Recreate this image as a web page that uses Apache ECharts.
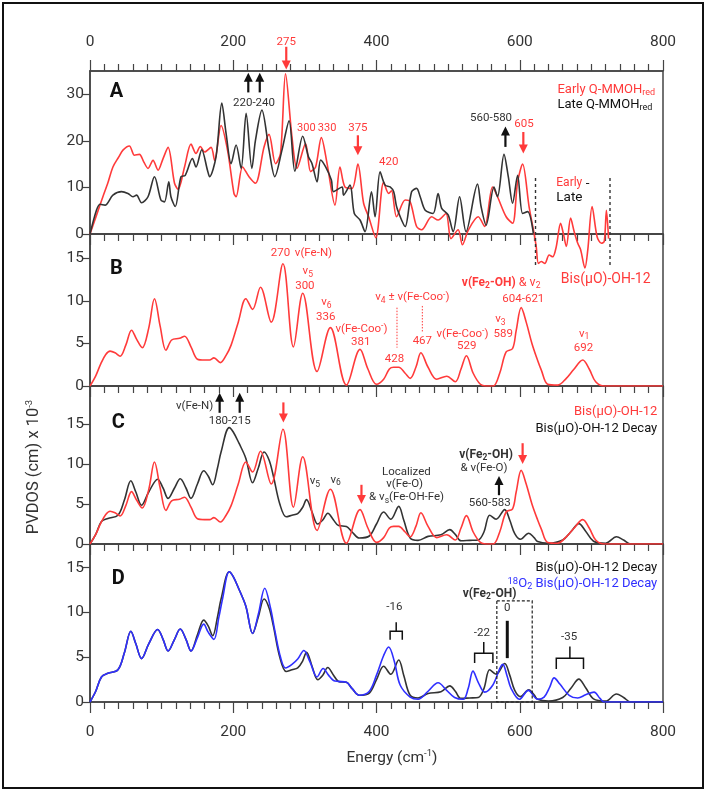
<!DOCTYPE html>
<html><head><meta charset="utf-8">
<script src="https://cdn.jsdelivr.net/npm/echarts@6/dist/echarts.min.js"></script>
<style>html,body{margin:0;padding:0;background:#fff}#c{width:706px;height:795px}</style>
</head><body><div id="c"></div>
<script>
// ---------------- data (x in cm^-1, y in PVDOS units) ----------------
const xTickValues = [0, 200, 400, 600, 800];
const yTicksA = [0, 10, 20, 30];
const yTicksBCD = [0, 5, 10, 15];

// Panel A: Early Q-MMOHred
const earlyA = [[0,0],[9,4],[18,8],[25,11],[32,14.4],[40,16.5],[46,18],[55,18.9],[62,16.9],[69,17.1],[75,15.5],[81,14.1],[88,15.8],[95,13.7],[102,16.2],[109,18.6],[118,10.9],[123,9.6],[132,14.4],[141,19.3],[148,17.3],[154,18.8],[160,17.6],[169,18.6],[174,15.8],[183,23.3],[192,18],[201,8.7],[204,8],[213,14.4],[222,12.3],[231,10.9],[243,18.7],[250,21.4],[259,15.1],[266,17.3],[273,34.4],[282,20.8],[289,14.1],[301,19.4],[308,13.4],[315,14.4],[323,20.7],[331,15.1],[342,6.2],[349,14.4],[356,10.1],[366,9.8],[374,15],[382,6.6],[389,3.7],[399,-0.8],[410,11.1],[417,8.7],[421,9.3],[428,3.7],[440,7.3],[447,6.9],[456,1.6],[463,0.9],[477,3.7],[486,3],[497,4.4],[504,-1],[514,0.9],[520,-2.3],[528,0.8],[542,3.7],[551,1.6],[562,10.1],[569,8],[581,3.7],[590,2.3],[597,11.2],[604,15],[613,5.9],[620,0.2]];
// Panel A: Early - Late difference
const diffA = [[620,0.2],[623,-2.7],[626,-6.3],[630,-5.9],[635,-6.3],[641,-4.5],[646,-4.9],[651,-2.7],[657,2.3],[661,0],[665,-2.7],[671,3.4],[676,0.5],[681,-2.0],[685,-3.4],[691,-7.3],[695,-3.4],[701,5.9],[708,-0.6],[714,-2.0],[718,-1.6],[721,5.1],[724,-1]];
// Panel A: Late Q-MMOHred
const lateA = [[0,0],[9,5.1],[14,6.4],[21,6.2],[32,8.35],[44,9.1],[53,8.7],[60,8],[65,8.35],[72,6.7],[81,8],[90,12.3],[99,7.3],[104,6.9],[110,11.2],[113,8],[119,5.9],[127,12.3],[133,12.6],[143,16.2],[148,14.4],[156,18.1],[164,13.7],[167,12.3],[176,16.6],[184,28.1],[190,21.6],[197,15.1],[204,19.1],[211,14.1],[218,25.9],[226,14.1],[231,20.1],[240,26.6],[250,18],[258,12.3],[268,18],[278,24.3],[286,13.5],[297,21],[305,16.6],[310,15.1],[317,11.2],[322,15.9],[329,14.4],[337,11.6],[340,9.1],[352,10.1],[354,8.35],[363,10.5],[369,4.4],[377,3],[384,0.5],[393,9.05],[398,3.7],[405,13.35],[412,10.5],[419,10.1],[424,9.05],[428,5.9],[435,3],[440,1.6],[449,9.05],[456,9.8],[461,8],[468,5.1],[479,4.4],[486,8.7],[491,5.5],[500,4.1],[507,0.5],[516,8],[525,0.5],[541,10.7],[546,5.9],[553,1.9],[564,10.1],[569,8],[578,17.1],[584,12.3],[590,6.6],[597,12.6],[604,4.4],[611,4.8],[619,0.15]];
// Panels B, C: Bis(uO)-OH-12
const bisOH12 = [[0,0],[8,1.2],[15,2.6],[22,3.7],[28,4.1],[35,3.9],[42,3.5],[50,4.8],[58,6.55],[65,5.5],[73,4.5],[82,6.8],[90,10.25],[98,7],[106,4.2],[114,5.4],[125,5.6],[132,5.85],[141,4.6],[150,3.15],[160,3.05],[167,3.05],[173,3.3],[182,2.75],[190,3.6],[197,4.8],[207,7.5],[217.6,10.25],[227,9.0],[238,11.6],[253,7.5],[269.4,14.35],[284,4.6],[297,10.9],[317,1.7],[335.6,6.85],[358,0.1],[377,4.3],[388,2],[400,0.2],[410,0.8],[418,2.0],[424,2.2],[431,2.2],[440,1.5],[447,0.9],[455,2.2],[462,3.9],[472,2.2],[484,0.8],[498,1.15],[510,0.5],[518,2],[525.5,3.55],[535,1.5],[545,0.2],[553,0],[563,0],[572,1.5],[581,4.0],[590,4.4],[595,6.5],[602,9.2],[609,7.5],[617,5.0],[625,3],[630,1.9],[639,0.2],[653,0.1],[665,0.9],[675,1.9],[688,3.05],[697,2],[706,0.5],[718,0],[760,0],[800,0]];
// Panels C, D: Bis(uO)-OH-12 Decay
const bisDecay = [[0,0],[8,1.2],[16,2.8],[25,3.2],[39,3.6],[48,5.5],[57,7.9],[64,6.5],[72,4.85],[82,6.5],[94.5,8.1],[102,7],[109,5.7],[118,7],[126,8.15],[134,7],[141,5.7],[150,7.5],[158.8,9.15],[165,8.5],[171.3,7.4],[178,9.5],[183,11.5],[194.4,14.55],[200,14],[208,12.6],[217.6,10.7],[227,7.65],[235,9.5],[243,11.5],[250,10.5],[256,8.5],[265,5],[274,3.4],[282,3.6],[290,3.8],[297,4.6],[302.3,5.55],[310,4],[318,2.5],[325,3],[332,3.85],[340,3],[347,2.3],[358,2.2],[366,1.5],[376,0.75],[390,1.0],[400,2.5],[410,4.0],[420,3.1],[431,4.7],[438,3],[447,0.75],[458,0.45],[472,0.95],[490,1.15],[502.3,1.8],[510,1.2],[518,0.4],[530,0.45],[542,0.5],[550,1.5],[558,3.6],[567,3.1],[579,4.3],[586,3],[593,1.3],[601,0.6],[612.5,1.35],[620,0.8],[625,0.3],[640,0.1],[660,0.5],[672,1.6],[682.5,2.55],[692,1.6],[703,0.35],[720,0.1],[735,0.9],[745,0.5],[755,0],[800,0]];
// Panel D: 18O2 Bis(uO)-OH-12 Decay
const bisDecay18O = [[0,0],[8,1.2],[16,2.8],[25,3.2],[39,3.6],[48,5.5],[57,7.9],[64,6.5],[72,4.85],[82,6.5],[94.5,8.1],[102,7],[109,5.7],[118,7],[126,8.15],[134,7],[141,5.7],[150,7.2],[158.8,8.7],[165,7.8],[173,7.0],[180,9.5],[185,11.5],[194.4,14.55],[200,14],[208,12.6],[217.6,10.7],[227,7.65],[235,9.8],[244,12.7],[252,10.5],[258,8],[266,5],[273,3.8],[282,4.2],[290,4.8],[298.6,5.75],[307,4.5],[317,2.8],[325.5,3.75],[333,3.0],[340,2.4],[347,2.3],[358,2.2],[366,1.5],[376,0.75],[390,1.2],[400,3],[410,5.2],[417,6.15],[425,4.5],[433,1.9],[447,0.55],[458,0.3],[472,1.2],[486,2.15],[498,1.3],[509,0.5],[521,0.3],[528,1.5],[534.7,3.45],[542,2.2],[551,1.1],[562.5,1.9],[576.4,4.2],[582,3],[588,1.5],[599.5,0.3],[612,1.3],[625,0.3],[634,0.55],[642,1.7],[648,2.7],[656,2.0],[669,0.75],[681,0.45],[692,0.8],[703.7,1.1],[712,0.4],[718,0],[800,0]];

// ---------------- styling ----------------
const RED = '#ff3a3a', BLK = '#333333', BLUE = '#2f2fff', AX = '#444444';
const FONT = 'Roboto, "Noto Sans", "DejaVu Sans", sans-serif';
const yMax = [35, 17.85, 19.75, 17.65];
const grids = [
  {left: 90, right: 43, top: 71, height: 163},
  {left: 90, right: 43, top: 234, height: 152},
  {left: 90, right: 43, top: 386, height: 158},
  {left: 90, right: 43, top: 544, height: 158}
].map(g => Object.assign(g, {show: true, borderColor: AX, borderWidth: 1.5, outerBoundsMode: 'none', containLabel: false}));

function xAx(i, pos, showLabel) {
  return {
    gridIndex: i, type: 'value', min: 0, max: 800, interval: 200, position: pos,
    axisLine: {show: true, lineStyle: {color: AX, width: 1.5}},
    axisTick: {show: true, length: 11, lineStyle: {color: AX, width: 1.2}},
    minorTick: {show: true, splitNumber: 10, length: 7, lineStyle: {color: AX, width: 1.2}},
    splitLine: {show: false}, minorSplitLine: {show: false},
    axisLabel: {show: showLabel, fontSize: 15.5, color: '#333', fontFamily: FONT, margin: pos === 'top' ? 21 : 22}
  };
}
function yAx(i) {
  const ticks = i === 0 ? yTicksA : yTicksBCD;
  return {
    gridIndex: i, type: 'value', min: 0, max: yMax[i], interval: i === 0 ? 10 : 5,
    axisLine: {show: true, lineStyle: {color: AX, width: 1.5}},
    axisTick: {show: true, length: 7, customValues: ticks, lineStyle: {color: AX, width: 1.2}},
    axisLabel: {show: true, customValues: ticks, fontSize: 15.5, color: '#333', fontFamily: FONT, margin: 6},
    splitLine: {show: false}
  };
}
function line(name, data, xi, yi, color, extra) {
  return Object.assign({
    name, type: 'line', data, xAxisIndex: xi, yAxisIndex: yi, symbol: 'none',
    smooth: 0.35, lineStyle: {color, width: 1.6}, itemStyle: {color}, silent: true, animation: false
  }, extra || {});
}

const chart = echarts.init(document.getElementById('c'), null, {renderer: 'canvas'});
chart.setOption({
  animation: false,
  backgroundColor: '#fff',
  grid: grids,
  xAxis: [xAx(0, 'bottom', false), xAx(1, 'bottom', false), xAx(2, 'bottom', false), xAx(3, 'bottom', true), xAx(0, 'top', true)],
  yAxis: [yAx(0), yAx(1), yAx(2), yAx(3)],
  series: [
    line('Early Q-MMOHred', earlyA, 0, 0, RED, {clip: false, smooth: 0.3}),
    line('Early - Late', diffA, 0, 0, RED, {clip: false, smooth: 0.3}),
    line('Late Q-MMOHred', lateA, 0, 0, BLK, {clip: false, smooth: 0.3}),
    line('Bis(μO)-OH-12', bisOH12, 1, 1, RED),
    line('Bis(μO)-OH-12 Decay', bisDecay, 2, 2, BLK),
    line('Bis(μO)-OH-12', bisOH12, 2, 2, RED),
    line('Bis(μO)-OH-12 Decay', bisDecay, 3, 3, BLK),
    line('18O2 Bis(μO)-OH-12 Decay', bisDecay18O, 3, 3, BLUE)
  ]
});

// ---------------- annotations (placed in data coordinates) ----------------
const els = [];
function P(g, x, y) { return chart.convertToPixel({xAxisIndex: g, yAxisIndex: g}, [x, y]); }
const RICH = {
  sub: {fontSize: 8.5, verticalAlign: 'bottom', lineHeight: 9, fontFamily: FONT},
  sup: {fontSize: 8.5, verticalAlign: 'top', lineHeight: 9, fontFamily: FONT},
  b: {fontWeight: 'bold', fontFamily: FONT},
  bsub: {fontWeight: 'bold', fontSize: 8.5, verticalAlign: 'bottom', lineHeight: 9, fontFamily: FONT},
  r: {fill: RED, fontFamily: FONT},
  rsub: {fill: RED, fontSize: 9, verticalAlign: 'bottom', lineHeight: 9, fontFamily: FONT},
  bigsub: {fontSize: 9, verticalAlign: 'bottom', lineHeight: 9, fontFamily: FONT},
  bigsup: {fontSize: 9.5, verticalAlign: 'top', lineHeight: 9, fontFamily: FONT}
};
function txt(g, x, y, text, o) {
  o = o || {};
  const p = P(g, x, y);
  els.push({type: 'text', x: p[0], y: p[1], z: 100, silent: true, style: {
    text, fill: o.color || BLK, fontSize: o.size || 11.5, fontFamily: FONT, fontWeight: o.bold ? 'bold' : 'normal',
    align: o.align || 'center', verticalAlign: 'middle', lineHeight: o.lh || 15, rich: RICH
  }});
}
function arrow(g, x, yTail, yHead, color) {
  const a = P(g, x, yTail), b = P(g, x, yHead);
  const dir = Math.sign(b[1] - a[1]), hl = 8, hw = 4.5;
  els.push({type: 'line', z: 100, silent: true, shape: {x1: a[0], y1: a[1], x2: b[0], y2: b[1] - dir * hl}, style: {stroke: color, lineWidth: 2.2}});
  els.push({type: 'polygon', z: 100, silent: true, shape: {points: [[b[0], b[1]], [b[0] - hw, b[1] - dir * (hl + 1)], [b[0] + hw, b[1] - dir * (hl + 1)]]}, style: {fill: color}});
}
function seg(g, x1, y1, x2, y2, color, w, dash) {
  const a = P(g, x1, y1), b = P(g, x2, y2);
  els.push({type: 'line', z: 100, silent: true, shape: {x1: a[0], y1: a[1], x2: b[0], y2: b[1]}, style: {stroke: color, lineWidth: w, lineDash: dash || null}});
}
function bracket(g, xa, xb, yH, yEnd, yTop) {
  const xm = (xa + xb) / 2;
  const pts = [P(g, xa, yEnd), P(g, xa, yH), P(g, xb, yH), P(g, xb, yEnd)];
  els.push({type: 'polyline', z: 100, silent: true, shape: {points: pts}, style: {stroke: '#111', lineWidth: 1.5, fill: null}});
  seg(g, xm, yH, xm, yTop, '#111', 1.5);
}

// Panel A
txt(0, 37, 30.4, 'A', {size: 20, bold: true, color: '#111'});
txt(0, 274, 41.3, '275', {color: RED});
arrow(0, 274, 40.2, 35.3, RED);
arrow(0, 221, 30.4, 34.6, '#111');
arrow(0, 237, 30.4, 34.6, '#111');
txt(0, 229, 28, '220-240');
txt(0, 302, 22.8, '300', {color: RED, size: 11});
txt(0, 331, 22.8, '330', {color: RED, size: 11});
txt(0, 374, 22.8, '375', {color: RED});
arrow(0, 374, 21.2, 16.9, RED);
txt(0, 417, 15.5, '420', {color: RED});
txt(0, 560, 24.8, '560-580');
arrow(0, 580, 18.7, 23.1, '#111');
txt(0, 606, 23.5, '605', {color: RED});
arrow(0, 605, 21.9, 17.3, RED);
txt(0, 789, 31, 'Early Q-MMOH{rsub|red}', {color: RED, size: 13, align: 'right'});
txt(0, 785, 27.8, 'Late Q-MMOH{bigsub|red}', {color: '#111', size: 13, align: 'right'});
txt(0, 651, 10.9, '{r|Early} -', {color: '#111', size: 13.5, align: 'left'});
txt(0, 651, 7.8, 'Late', {color: '#111', size: 13.5, align: 'left'});
seg(0, 622, 12, 622, -7.1, '#333', 1.4, [3, 3]);
seg(0, 726, 12, 726, -7.1, '#333', 1.4, [3, 3]);

// Panel B
txt(1, 37, 13.7, 'B', {size: 20, bold: true, color: '#111'});
txt(1, 720, 12.5, 'Bis(μO)-OH-12', {color: RED, size: 14});
txt(1, 266, 15.6, '270', {color: RED});
txt(1, 312, 15.6, 'ν(Fe-N)', {color: RED});
txt(1, 304, 13.45, 'ν{sub|5}', {color: RED});
txt(1, 300, 11.75, '300', {color: RED});
txt(1, 330, 9.8, 'ν{sub|6}', {color: RED});
txt(1, 329, 8.1, '336', {color: RED});
txt(1, 379, 6.7, 'ν(Fe-Coo{sup|-})', {color: RED});
txt(1, 378, 5.2, '381', {color: RED});
txt(1, 450, 10.4, 'ν{sub|4} ± ν(Fe-Coo{sup|-})', {color: RED});
seg(1, 428.6, 9.2, 428.6, 4.5, RED, 1, [1.5, 1.5]);
seg(1, 464, 9.4, 464, 6.4, RED, 1, [1.5, 1.5]);
txt(1, 425, 3.15, '428', {color: RED});
txt(1, 464, 5.3, '467', {color: RED});
txt(1, 520, 6.1, 'ν(Fe-Coo{sup|-})', {color: RED});
txt(1, 526, 4.7, '529', {color: RED});
txt(1, 573, 7.8, 'ν{sub|3}', {color: RED});
txt(1, 577, 6.1, '589', {color: RED});
txt(1, 574, 12.1, '{b|ν(Fe}{bsub|2}{b|-OH)} & ν{sub|2}', {color: RED, size: 12.5});
txt(1, 605, 10.2, '604-621', {color: RED});
txt(1, 690, 6.1, 'ν{sub|1}', {color: RED});
txt(1, 689, 4.5, '692', {color: RED});

// Panel C
txt(2, 39.5, 15.1, 'C', {size: 20, bold: true, color: '#111'});
txt(2, 172, 17.2, 'ν(Fe-N)', {align: 'right'});
arrow(2, 181, 16.4, 18.9, '#111');
arrow(2, 209, 16.4, 18.9, '#111');
txt(2, 195, 15.3, '180-215');
arrow(2, 270, 17.7, 15.2, RED);
txt(2, 314, 7.8, 'ν{sub|5}');
txt(2, 343, 8.0, 'ν{sub|6}');
arrow(2, 379, 7.4, 5.0, RED);
txt(2, 441.7, 8.96, 'Localized');
txt(2, 439.3, 7.5, 'ν(Fe-O)');
txt(2, 442, 5.8, '& ν{sub|s}(Fe-OH-Fe)');
txt(2, 553, 11.1, '{b|ν(Fe}{bsub|2}{b|-OH)}', {size: 12.5});
txt(2, 550, 9.5, '& ν(Fe-O)');
arrow(2, 571, 6.1, 8.5, '#111');
txt(2, 558, 5.1, '560-583');
arrow(2, 604, 12.6, 10.0, RED);
txt(2, 792, 16.5, 'Bis(μO)-OH-12', {color: RED, size: 13, align: 'right'});
txt(2, 792, 14.4, 'Bis(μO)-OH-12 Decay', {color: '#111', size: 13, align: 'right'});

// Panel D
txt(3, 39.5, 13.7, 'D', {size: 20, bold: true, color: '#111'});
txt(3, 792, 15, 'Bis(μO)-OH-12 Decay', {color: '#111', size: 13, align: 'right'});
txt(3, 792, 13.2, '{bigsup|18}O{bigsub|2} Bis(μO)-OH-12 Decay', {color: BLUE, size: 13, align: 'right'});
txt(3, 558, 12.05, '{b|ν(Fe}{bsub|2}{b|-OH)}', {size: 12});
(function () {
  const a = P(3, 568, 11.3), b = P(3, 617.4, 0);
  els.push({type: 'rect', z: 99, silent: true, shape: {x: a[0], y: a[1], width: b[0] - a[0], height: b[1] - a[1]}, style: {stroke: '#222', lineWidth: 1.2, lineDash: [3, 2], fill: null}});
})();
txt(3, 582.6, 10.5, '0');
seg(3, 582.6, 9.07, 582.6, 4.9, '#111', 3);
txt(3, 425, 10.6, '-16');
bracket(3, 419, 436, 7.9, 6.95, 8.9);
txt(3, 547, 7.7, '-22');
bracket(3, 537, 562.5, 5.45, 4.35, 6.7);
txt(3, 669, 7.2, '-35');
bracket(3, 651, 689, 4.9, 3.7, 6.2);

// axis titles and outer frame
els.push({type: 'text', x: 34, y: 467, rotation: Math.PI / 2, z: 100, silent: true, style: {
  text: 'PVDOS (cm) x 10{bigsup|-3}', fill: '#333', fontSize: 16.5, fontFamily: FONT, align: 'center', verticalAlign: 'middle', lineHeight: 18, rich: RICH}});
els.push({type: 'text', x: 392, y: 758, z: 100, silent: true, style: {
  text: 'Energy (cm{bigsup|-1})', fill: '#333', fontSize: 15.5, fontFamily: FONT, align: 'center', verticalAlign: 'middle', lineHeight: 18, rich: RICH}});
els.push({type: 'rect', z: 100, silent: true, shape: {x: 3, y: 3, width: 700, height: 785}, style: {stroke: '#111', lineWidth: 2, fill: null}});

chart.setOption({graphic: {elements: els}});
</script>
</body></html>
